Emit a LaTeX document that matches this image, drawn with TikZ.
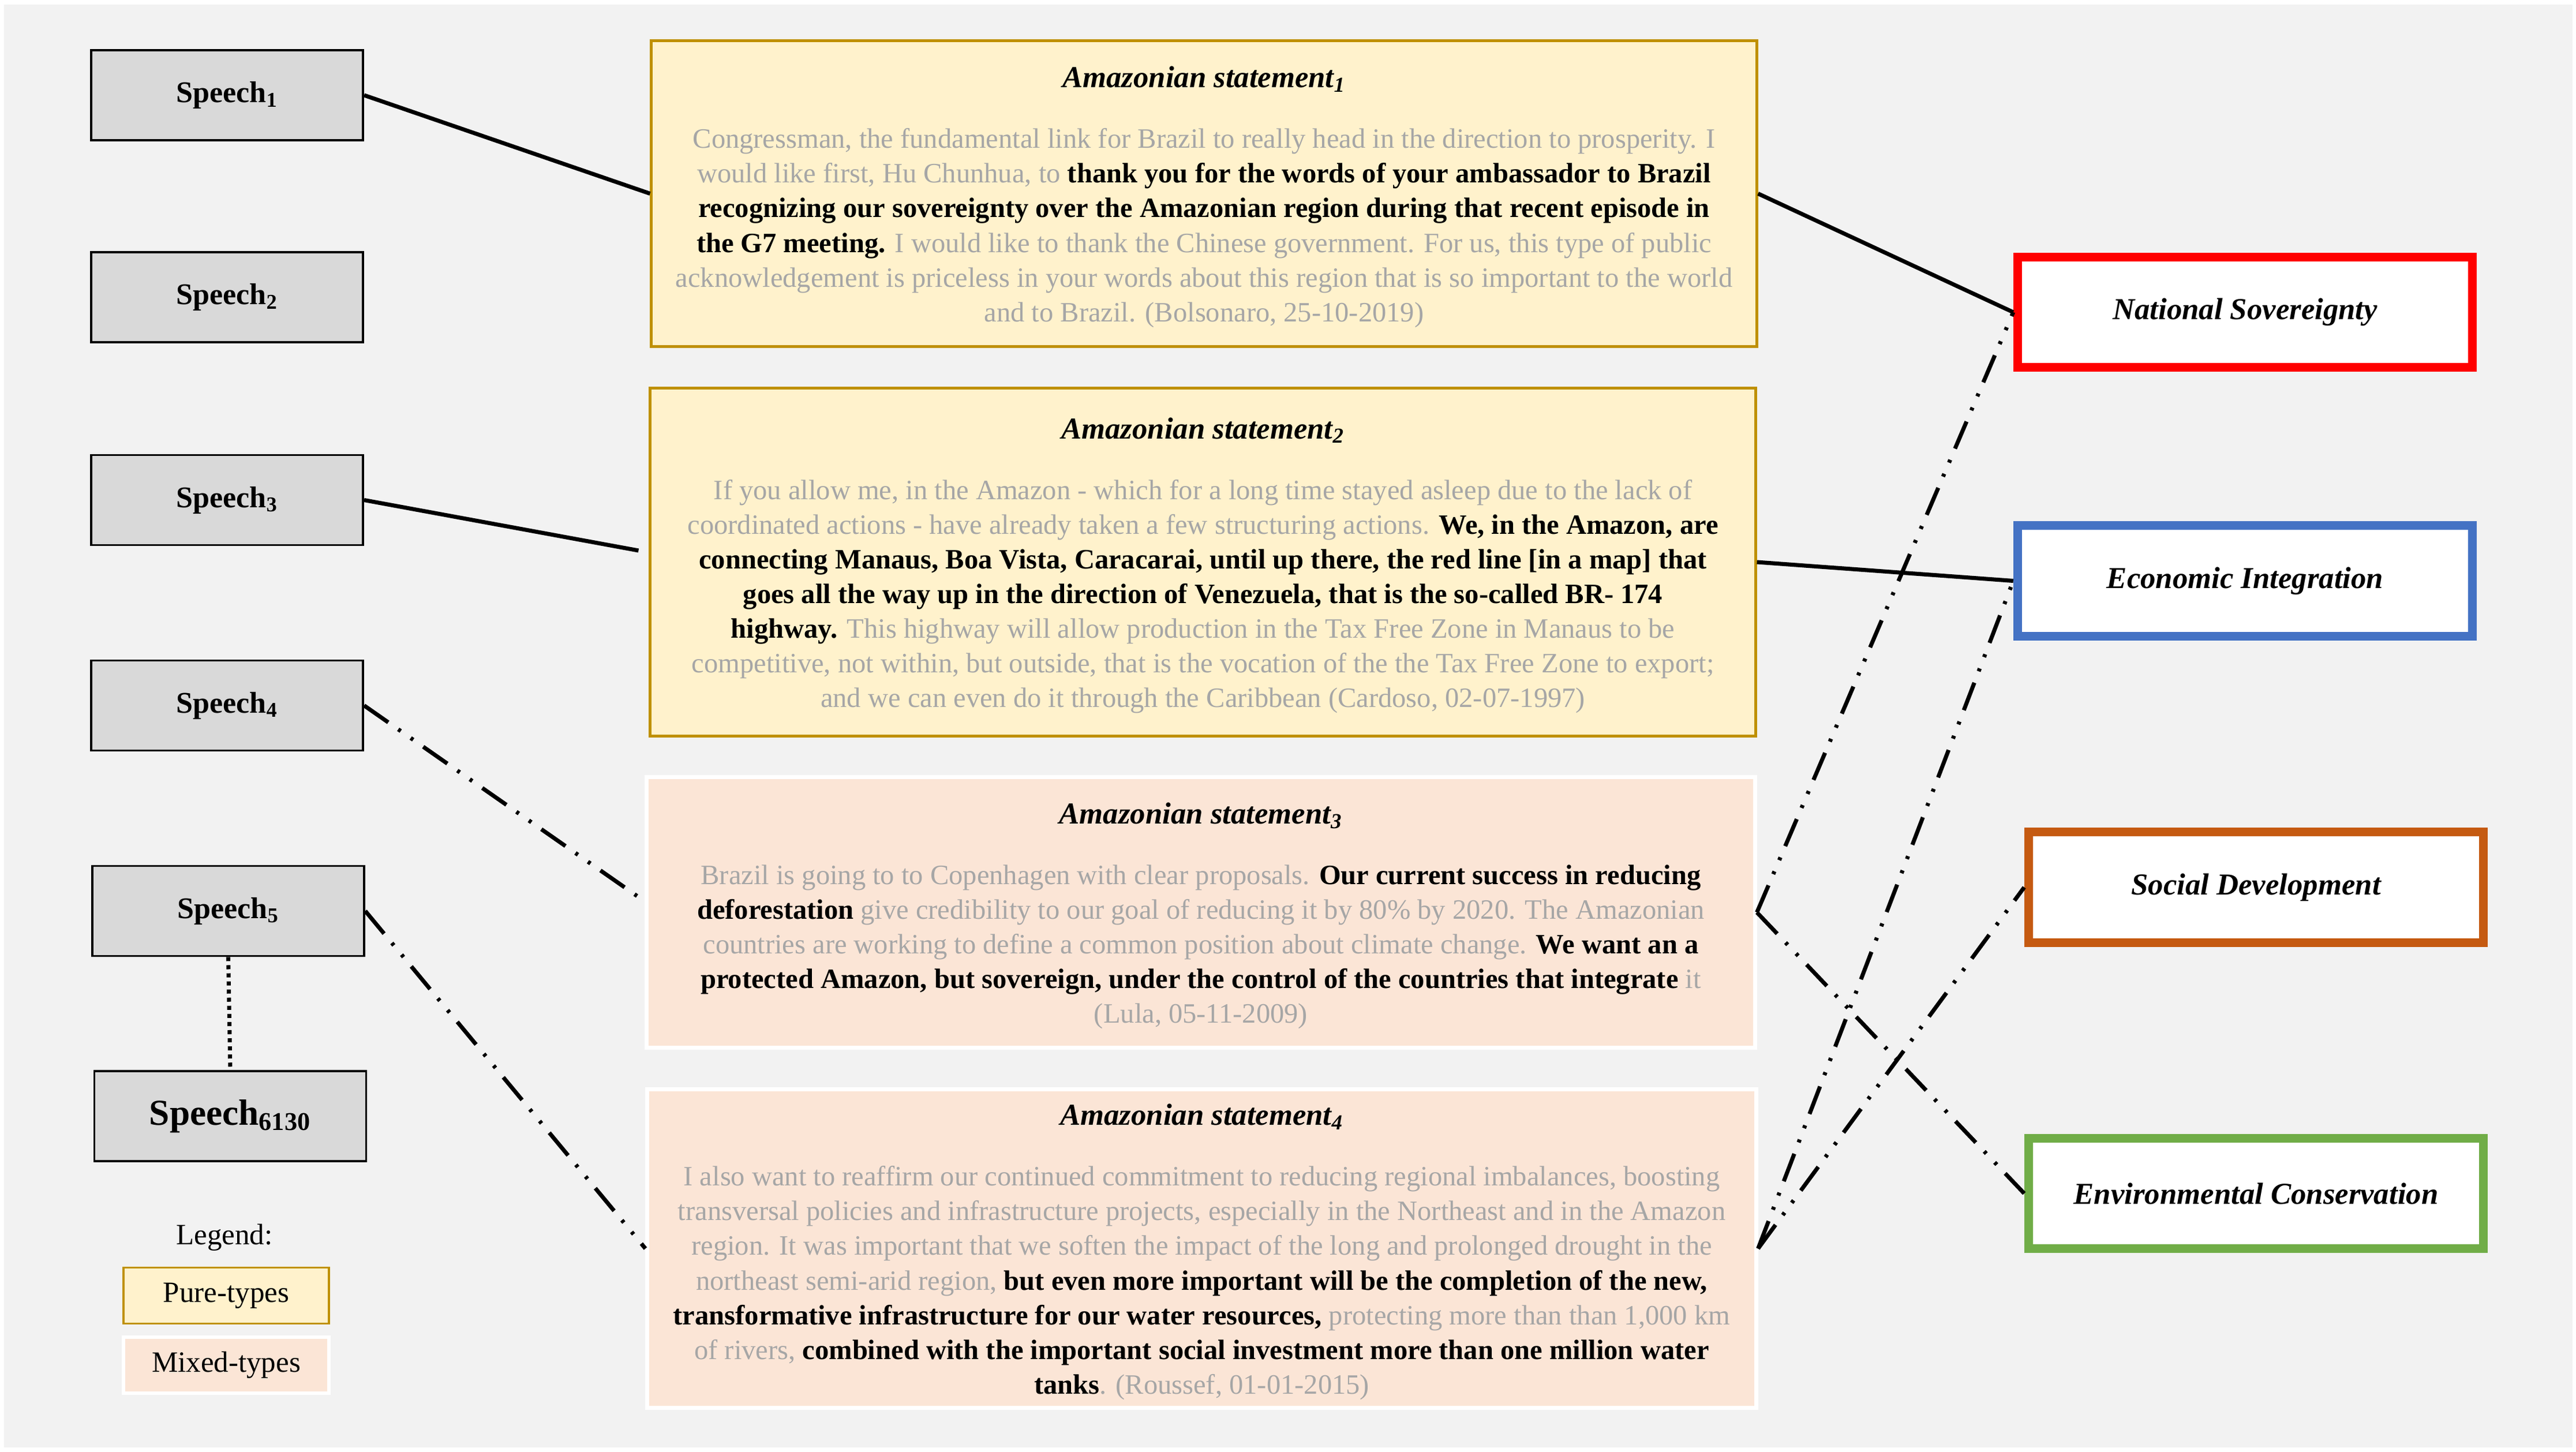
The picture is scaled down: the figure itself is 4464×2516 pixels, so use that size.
\documentclass[tikz,border=0pt]{standalone}
\usepackage{fontspec}
\setmainfont{Liberation Serif}

\definecolor{bggray}{HTML}{F2F2F2}
\definecolor{speechgray}{HTML}{D9D9D9}
\definecolor{textgray}{HTML}{A6A6A6}
\definecolor{puregold}{HTML}{BF9000}
\definecolor{purefill}{HTML}{FFF2CC}
\definecolor{mixedfill}{HTML}{FBE5D6}
\definecolor{nsred}{HTML}{FF0000}
\definecolor{eiblue}{HTML}{4472C4}
\definecolor{sdorange}{HTML}{C55A11}
\definecolor{ecgreen}{HTML}{70AD47}

\newcommand{\bk}[1]{\textcolor{black}{\textbf{#1}}}
\newcommand{\sttitle}[1]{{\color{black}\fontsize{15}{17.1}\selectfont\bfseries\itshape\rule{0pt}{13.8pt}Amazonian statement\textsubscript{#1}}}

\begin{document}
\begin{tikzpicture}[x = 0.01cm, y = -0.01cm,
                      link/.style = {line width = 2pt},
                      dashdots/.style = {line width = 2pt, dash pattern = on 14.5pt off 6pt on 1.5pt off 6pt on 1.5pt off 6pt},
                      dotline/.style = {line width = 2pt, dash pattern = on 2pt off 2pt},
                      speech/.style = {rectangle, draw, line width = 0.037cm, fill = speechgray, minimum width = 4.71cm, minimum height = 1.56cm, inner sep = 0pt, font = \fontsize{14.8}{16}\selectfont\bfseries},
                      statement/.style = {rectangle, draw, line width = 0.05cm, minimum width = 19.14cm, inner sep = 0pt, align = center, text = textgray, font = \fontsize{13.8}{17.1}\selectfont},
                      pure/.style = {statement, draw = puregold, fill = purefill},
                      mixed/.style = {statement, draw = white, fill = mixedfill, line width = 0.07cm},
                      category/.style = {rectangle, draw, fill = white, line width = 0.15cm, minimum width = 7.88cm, minimum height = 1.91cm, font = \fontsize{15}{17}\selectfont\bfseries\itshape},
                      legendbox/.style = {rectangle, minimum width = 3.56cm, minimum height = 0.97cm, inner sep = 0pt, font = \fontsize{14.5}{16}\selectfont}]
    \useasboundingbox (0, 0) rectangle (4464, 2516);
    \fill [white] (0, 0) rectangle (4464, 2516);
    \fill [bggray] (7, 8) rectangle (4458, 2508);

    % speeches
    \node [speech] (sp1) at (393.5, 165){Speech\textsubscript{1}};
    \node [speech] (sp2) at (393.5, 515){Speech\textsubscript{2}};
    \node [speech] (sp3) at (393.5, 866.5){Speech\textsubscript{3}};
    \node [speech] (sp4) at (393.5, 1222.5){Speech\textsubscript{4}};
    \node [speech] (sp5) at (395.5, 1578.5){Speech\textsubscript{5}};
    \node [speech, font = \fontsize{18}{20}\selectfont\bfseries] (sp6130) at (399, 1934){Speech\textsubscript{6130}};

    % legend
    \node [font = \fontsize{14.5}{16}\selectfont] (legend) at (389, 2144){Legend:};
    \node [legendbox, draw = puregold, line width = 0.037cm, fill = purefill] (lgpure) at (392, 2245){Pure-types};
    \node [legendbox, draw = white, line width = 0.06cm, fill = mixedfill] (lgmixed) at (392, 2365.5){Mixed-types};

    % statements
    \node [pure, minimum height = 5.30cm] (st1) at (2086.5, 335.5){\sttitle{1}\\[12.7pt]
        Congressman, the fundamental link for Brazil to really head in the direction to prosperity. I\\
        would like first, Hu Chunhua, to \bk{thank you for the words of your ambassador to Brazil}\\
        \bk{recognizing our sovereignty over the Amazonian region during that recent episode in}\\
        \bk{the G7 meeting.} I would like to thank the Chinese government. For us, this type of public\\
        acknowledgement is priceless in your words about this region that is so important to the world\\
        and to Brazil. (Bolsonaro, 25-10-2019)};
    \node [pure, minimum height = 6.03cm] (st2) at (2084.5, 974){\sttitle{2}\\[12.7pt]
        If you allow me, in the Amazon - which for a long time stayed asleep due to the lack of\\
        coordinated actions - have already taken a few structuring actions. \bk{We, in the Amazon, are}\\
        \bk{connecting Manaus, Boa Vista, Caracarai, until up there, the red line [in a map] that}\\
        \bk{goes all the way up in the direction of Venezuela, that is the so-called BR- 174}\\
        \bk{highway.} This highway will allow production in the Tax Free Zone in Manaus to be\\
        competitive, not within, but outside, that is the vocation of the the Tax Free Zone to export;\\
        and we can even do it through the Caribbean (Cardoso, 02-07-1997)};
    \node [mixed, minimum width = 19.19cm, minimum height = 4.69cm] (st3) at (2081, 1581){\sttitle{3}\\[12.7pt]
        Brazil is going to to Copenhagen with clear proposals. \bk{Our current success in reducing}\\
        \bk{deforestation} give credibility to our goal of reducing it by 80\% by 2020. The Amazonian\\
        countries are working to define a common position about climate change. \bk{We want an a}\\
        \bk{protected Amazon, but sovereign, under the control of the countries that integrate} it\\
        (Lula, 05-11-2009)};
    \node [mixed, minimum width = 19.20cm, minimum height = 5.52cm] (st4) at (2082.5, 2163.5){\sttitle{4}\\[12.7pt]
        I also want to reaffirm our continued commitment to reducing regional imbalances, boosting\\
        transversal policies and infrastructure projects, especially in the Northeast and in the Amazon\\
        region. It was important that we soften the impact of the long and prolonged drought in the\\
        northeast semi-arid region, \bk{but even more important will be the completion of the new,}\\
        \bk{transformative infrastructure for our water resources,} protecting more than than 1,000 km\\
        of rivers, \bk{combined with the important social investment more  than one million water}\\
        \bk{tanks}. (Roussef, 01-01-2015)};

    % categories
    \node [category, draw = nsred] (ns) at (3890.5, 541){National Sovereignty};
    \node [category, draw = eiblue] (ei) at (3890.5, 1006.5){Economic Integration};
    \node [category, draw = sdorange] (sd) at (3909.5, 1537.5){Social Development};
    \node [category, draw = ecgreen] (ec) at (3909.5, 2068){Environmental Conservation};

    \draw [link] (sp1.east) -- (st1.west);
    \draw [link] (sp3.east) -- ([shift = {(-18, -20)}]st2.west);
    \draw [dashdots] (sp4.east) -- ([shift = {(0, -19)}]st3.west);
    \draw [dashdots] (sp5.east) -- (st4.west);
    \draw [dotline] (sp5.south) -- (sp6130.north);

    \draw [link] (st1.east) -- (ns.west);
    \draw [link] (st2.east) -- (ei.west);
    \draw [dashdots] (st3.east) -- (ns.west);
    \draw [dashdots] (st3.east) -- (ec.west);
    \draw [dashdots] (st4.east) -- (ei.west);
    \draw [dashdots] (st4.east) -- (sd.west);
\end{tikzpicture}
\end{document}
